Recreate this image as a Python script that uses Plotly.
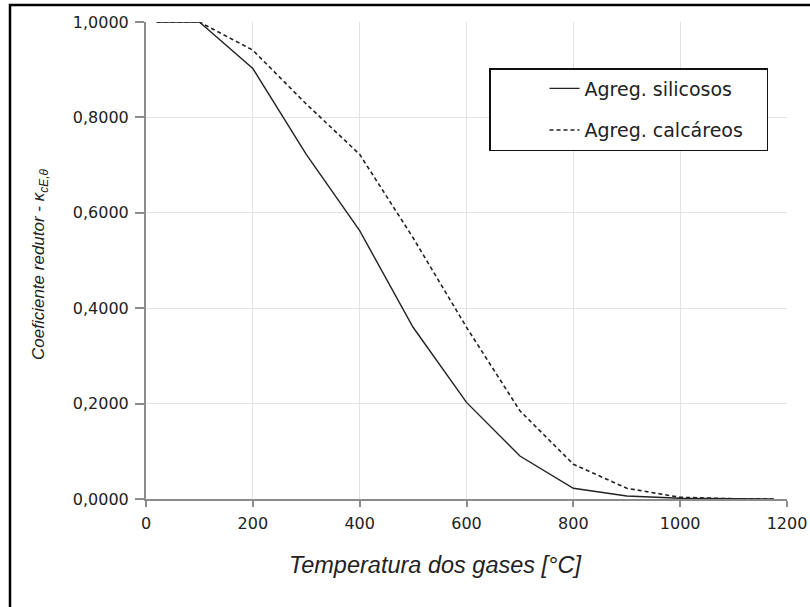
import plotly.graph_objects as go

# Data
temperatura = [20, 100, 200, 300, 400, 500, 600, 700, 800, 900, 1000, 1100, 1175]
silicosos = [1.0, 1.0, 0.9025, 0.7225, 0.5625, 0.36, 0.2025, 0.09, 0.0225, 0.0064, 0.0016, 0.0001, 0.0]
calcareos = [1.0, 1.0, 0.9409, 0.8281, 0.7225, 0.5476, 0.36, 0.1849, 0.0729, 0.0225, 0.0036, 0.0004, 0.0]
y_ticks = [0.0, 0.2, 0.4, 0.6, 0.8, 1.0]
x_ticks = [0, 200, 400, 600, 800, 1000, 1200]

W, H = 810, 607
L, R, T, B = 146, 787, 22, 499


def px(xw):
    return (xw - L) / (R - L)


def py(yw):
    return (B - yw) / (B - T)


fig = go.Figure()
fig.add_trace(go.Scatter(
    x=temperatura, y=silicosos, mode="lines",
    name="Agreg. silicosos&nbsp;&nbsp;&nbsp;",
    line=dict(color="#222222", width=1.4),
    legendgroup="a",
))
fig.add_trace(go.Scatter(
    x=temperatura, y=calcareos, mode="lines",
    name="Agreg. calcáreos&nbsp;&nbsp;&nbsp;",
    line=dict(color="#222222", width=1.6, dash="4px,3px"),
    legendgroup="b",
))

axis_font = dict(family="DejaVu Sans", size=16, color="#222222")
fig.update_xaxes(
    range=[0, 1200], tickvals=x_ticks, ticktext=[str(v) for v in x_ticks],
    showgrid=True, gridcolor="#e3e3e3", gridwidth=1,
    showline=True, linecolor="#8c8c8c", linewidth=2,
    ticks="outside", ticklen=6, tickcolor="#8c8c8c", tickwidth=1.5,
    tickfont=axis_font, zeroline=False, ticklabelstandoff=3,
)
fig.update_yaxes(
    range=[0, 1.0], tickvals=y_ticks,
    ticktext=[f"{v:.4f}".replace(".", ",") for v in y_ticks],
    showgrid=True, gridcolor="#e3e3e3", gridwidth=1,
    showline=True, linecolor="#8c8c8c", linewidth=2,
    ticks="outside", ticklen=9, tickcolor="#8c8c8c", tickwidth=1.5,
    tickfont=axis_font, zeroline=False, ticklabelstandoff=3,
)

fig.update_layout(
    width=W, height=H,
    margin=dict(l=L, r=W - R, t=T, b=H - B, pad=0, autoexpand=False),
    paper_bgcolor="white", plot_bgcolor="white",
    showlegend=True,
    legend=dict(
        x=px(489), y=py(68),
        xanchor="left", yanchor="top",
        bgcolor="white", bordercolor="#111111", borderwidth=1.5,
        font=dict(family="DejaVu Sans", size=19, color="#222222"),
        traceorder="grouped", tracegroupgap=14, indentation=54,
    ),
    annotations=[
        dict(text="<i>Temperatura dos gases [°C]</i>", xref="paper", yref="paper",
             x=px(435), y=py(565),
             xanchor="center", yanchor="middle", showarrow=False,
             font=dict(family="Liberation Sans, Arial", size=23.5, color="#222222")),
        dict(text="<i>Coeficiente redutor - κ<sub>cE,θ</sub></i>", xref="paper", yref="paper",
             x=px(40), y=py(265),
             xanchor="center", yanchor="middle", showarrow=False, textangle=-90,
             font=dict(family="Liberation Sans, Arial", size=17, color="#222222")),
    ],
    shapes=[
        dict(type="rect", xref="paper", yref="paper",
             x0=px(10), x1=px(840),
             y0=py(5), y1=py(660),
             line=dict(color="black", width=2.5), fillcolor="rgba(0,0,0,0)", layer="above"),
    ],
)

fig.write_html("out.html", config={"displayModeBar": False},
               post_script="document.body.style.margin='0';")
